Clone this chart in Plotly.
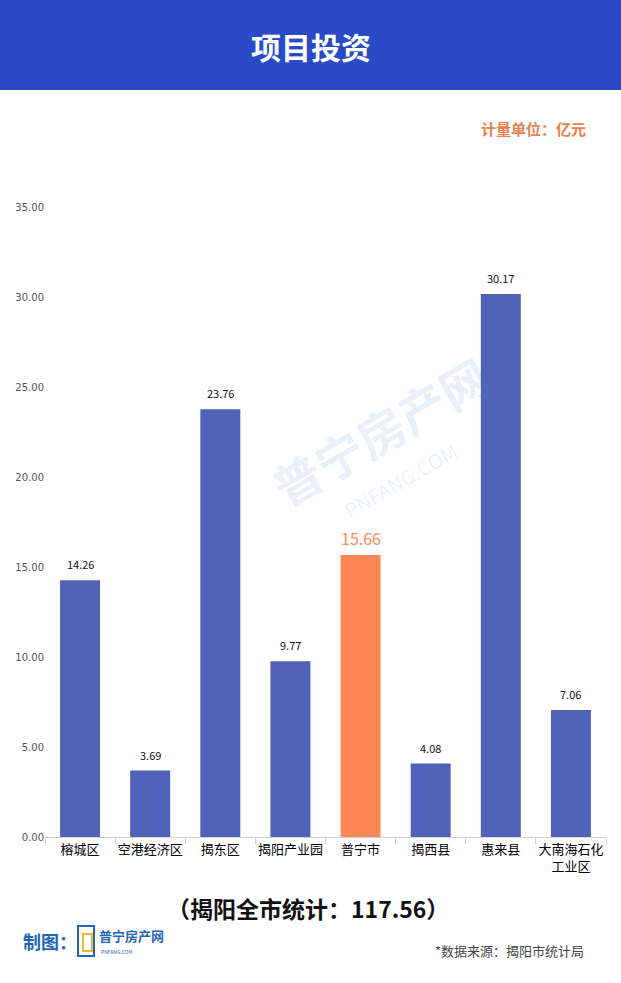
import plotly.graph_objects as go

categories = ["榕城区", "空港经济区", "揭东区", "揭阳产业园", "普宁市", "揭西县", "惠来县", "大南海石化<br>工业区"]
values = [14.26, 3.69, 23.76, 9.77, 15.66, 4.08, 30.17, 7.06]
highlight = "普宁市"
y_ticks = [0, 5, 10, 15, 20, 25, 30, 35]

W, H = 621, 983
L, R, T, B = 45, 15, 207, 146
PH = H - T - B
PW = W - L - R

def py(p):
    return (H - B - p) / PH

def px(p):
    return (p - L) / PW

FONT = "Noto Sans CJK SC"
BLUE = "#4F62B8"
ORANGE = "#FF8657"

colors = [ORANGE if c == highlight else BLUE for c in categories]

fig = go.Figure(go.Bar(
    x=categories, y=values, marker_color=colors, marker_line_width=0,
    width=0.57, hoverinfo="x+y",
))

for c, v in zip(categories, values):
    hl = c == highlight
    fig.add_annotation(x=c, y=v, text=f"{v:.2f}", showarrow=False, yanchor="bottom", yshift=6 if not hl else 3,
                       font=dict(size=16 if hl else 11, color=ORANGE if hl else "#111111", family=FONT))

fig.update_layout(
    width=W, height=H, margin=dict(l=L, r=R, t=T, b=B),
    paper_bgcolor="white", plot_bgcolor="white", showlegend=False,
    font=dict(family=FONT),
)
fig.update_yaxes(range=[0, 35], tickvals=y_ticks, tickformat=".2f", showgrid=False,
                 zeroline=False, showline=False, tickfont=dict(size=10, color="#555555", family="DejaVu Sans"))
fig.update_xaxes(showline=True, linecolor="#D0D0D0", linewidth=1, ticks="outside", tickson="boundaries",
                 ticklen=6, tickcolor="#D0D0D0", tickangle=0,
                 tickfont=dict(size=13, color="#000000", family=FONT))

# header band
fig.add_shape(type="rect", xref="paper", yref="paper", x0=-1, x1=2, y0=py(90), y1=py(-5),
              fillcolor="#2B4BC6", line_width=0, layer="below")

anns = [
    dict(text="<b>项目投资</b>", x=0.5 * W, y=46, size=30, color="white", xanchor="center"),
    dict(text="<b>计量单位：亿元</b>", x=588, y=128, size=15, color="#E8804F", xanchor="right"),
    dict(text="<b>（揭阳全市统计：117.56）</b>", x=308, y=908, size=23, color="#111111", xanchor="center"),
    dict(text="<b>制图：</b>", x=21, y=941, size=18, color="#2366B5", xanchor="left"),
    dict(text="<b>普宁房产网</b>", x=97, y=936, size=13, color="#2366B5", xanchor="left"),
    dict(text="PNFANG.COM", x=99, y=951, size=5, color="#2366B5", xanchor="left"),
    dict(text="*数据来源：揭阳市统计局", x=586, y=950, size=13, color="#444444", xanchor="right"),
]
for a in anns:
    fig.add_annotation(text=a["text"], xref="paper", yref="paper", x=px(a["x"]), y=py(a["y"]),
                       xanchor=a["xanchor"], yanchor="middle", showarrow=False,
                       font=dict(size=a["size"], color=a["color"], family=FONT))

# logo box approximation next to 制图
fig.add_shape(type="rect", xref="paper", yref="paper", x0=px(78), x1=px(94), y0=py(956), y1=py(926),
              line=dict(color="#2366B5", width=2), fillcolor="rgba(0,0,0,0)")
fig.add_shape(type="rect", xref="paper", yref="paper", x0=px(83), x1=px(92), y0=py(951), y1=py(934),
              line=dict(color="#F2B63C", width=2), fillcolor="rgba(0,0,0,0)")

# watermark
fig.add_annotation(text="<b>普宁房产网</b>", xref="paper", yref="paper", x=px(380), y=py(430),
                   showarrow=False, textangle=-30, font=dict(size=48, color="rgba(70,130,200,0.13)", family=FONT))
fig.add_annotation(text="PNFANG.COM", xref="paper", yref="paper", x=px(400), y=py(480),
                   showarrow=False, textangle=-30, font=dict(size=20, color="rgba(70,130,200,0.12)", family=FONT))

fig.write_html("out.html", config={"displayModeBar": False},
               post_script="document.body.style.margin='0';document.body.style.overflow='hidden';")
